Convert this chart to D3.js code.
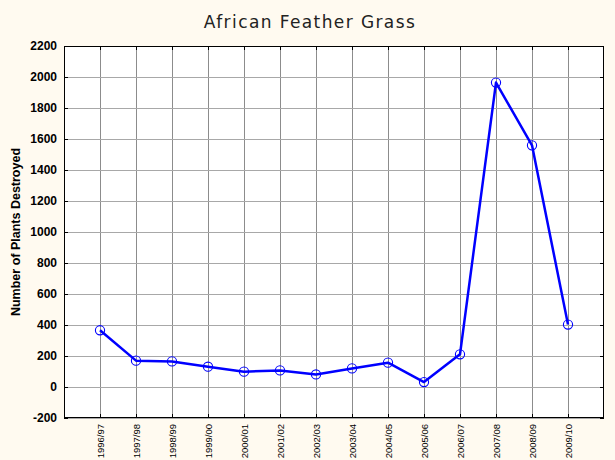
<!DOCTYPE html>
<html><head><meta charset="utf-8">
<script src="https://cdn.jsdelivr.net/npm/d3@7"></script>
<style>
html,body{margin:0;padding:0;background:#FFFAF0;}
svg{display:block;}
</style></head>
<body>
<svg id="c" width="615" height="460"></svg>
<script>
const categories = ["1996/97","1997/98","1998/99","1999/00","2000/01","2001/02","2002/03","2003/04","2004/05","2005/06","2006/07","2007/08","2008/09","2009/10"];
const values = [366, 170, 165, 131, 99, 107, 81, 120, 157, 32, 211, 1964, 1559, 403];
const yTicks = [-200,0,200,400,600,800,1000,1200,1400,1600,1800,2000,2200];
const title = "African Feather Grass";
const yTitle = "Number of Plants Destroyed";

const svg = d3.select("#c");
const W = 615, H = 460;
const m = {l:64, r:11, t:46, b:42};
const pw = W - m.l - m.r, ph = H - m.t - m.b;

svg.append("rect").attr("width",W).attr("height",H).attr("fill","#FFFAF0");

const x = d3.scaleLinear().domain([0, categories.length+1]).range([m.l, m.l+pw]);
const y = d3.scaleLinear().domain([-200, 2200]).range([m.t+ph, m.t]);

const g = svg.append("g");
g.append("rect").attr("x",m.l).attr("y",m.t).attr("width",pw).attr("height",ph).attr("fill","#fff");

// grid lines
g.selectAll("line.vg").data(categories).enter().append("line")
  .attr("x1",(d,i)=>Math.round(x(i+1))+0.5).attr("x2",(d,i)=>Math.round(x(i+1))+0.5)
  .attr("y1",m.t).attr("y2",m.t+ph).attr("stroke","#8c8c8c").attr("stroke-width",1);
g.selectAll("line.hg").data(yTicks).enter().append("line")
  .attr("x1",m.l).attr("x2",m.l+pw)
  .attr("y1",d=>Math.round(y(d))+0.5).attr("y2",d=>Math.round(y(d))+0.5)
  .attr("stroke","#a8a8a8").attr("stroke-width",1);

// inner ticks
const tl = 4;
yTicks.forEach(d=>{
  const yy = Math.round(y(d))+0.5;
  g.append("line").attr("x1",m.l).attr("x2",m.l+tl).attr("y1",yy).attr("y2",yy).attr("stroke","#000");
  g.append("line").attr("x1",m.l+pw-tl).attr("x2",m.l+pw).attr("y1",yy).attr("y2",yy).attr("stroke","#000");
});
categories.forEach((d,i)=>{
  const xx = Math.round(x(i+1))+0.5;
  g.append("line").attr("x1",xx).attr("x2",xx).attr("y1",m.t).attr("y2",m.t+tl).attr("stroke","#000");
  g.append("line").attr("x1",xx).attr("x2",xx).attr("y1",m.t+ph-tl).attr("y2",m.t+ph).attr("stroke","#000");
});

// frame
g.append("rect").attr("x",m.l+0.5).attr("y",m.t+0.5).attr("width",pw-1).attr("height",ph-1)
  .attr("fill","none").attr("stroke","#000").attr("stroke-width",1);

// y tick labels
g.selectAll("text.yl").data(yTicks).enter().append("text")
  .attr("x",m.l-7).attr("y",d=>y(d)).attr("dy","0.36em")
  .attr("text-anchor","end").attr("font-family","Liberation Sans, Arial, sans-serif")
  .attr("font-weight","bold").attr("font-size","12px").attr("fill","#000").text(d=>d);

// x tick labels
g.selectAll("text.xl").data(categories).enter().append("text")
  .attr("transform",(d,i)=>`translate(${x(i+1)+3.5},${m.t+ph+6}) rotate(-90)`)
  .attr("text-anchor","end").attr("font-family","Liberation Sans Narrow, Arial Narrow, Liberation Sans, sans-serif")
  .attr("font-size","9.5px").attr("fill","#000").text(d=>d);

// y title
svg.append("text").attr("transform",`translate(20,${y(1000)}) rotate(-90)`)
  .attr("text-anchor","middle").attr("font-family","Liberation Sans, Arial, sans-serif")
  .attr("font-weight","bold").attr("font-size","12.5px").text(yTitle);

// title
svg.append("text").attr("x",310).attr("y",28).attr("text-anchor","middle")
  .attr("font-family","DejaVu Sans, Verdana, sans-serif").attr("font-size","17px")
  .attr("letter-spacing","1.4px").attr("fill","#222").text(title);

// line
const line = d3.line().x((d,i)=>x(i+1)).y(d=>y(d));
g.append("path").datum(values).attr("d",line).attr("fill","none")
  .attr("stroke","#0000ff").attr("stroke-width",2.5).attr("stroke-linejoin","round");
g.selectAll("circle.pt").data(values).enter().append("circle")
  .attr("cx",(d,i)=>x(i+1)).attr("cy",d=>y(d)).attr("r",4.6)
  .attr("fill","none").attr("stroke","#0000ff").attr("stroke-width",1.1);
</script>
</body></html>
